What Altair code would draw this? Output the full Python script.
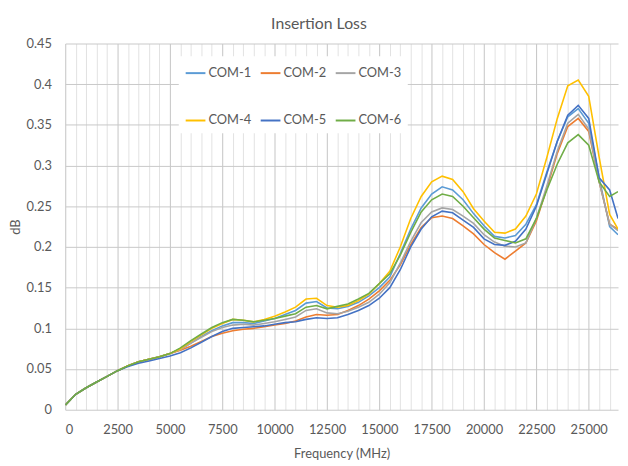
import altair as alt
import pandas as pd

freq = [10, 500, 1000, 1500, 2000, 2500, 3000, 3500, 4000, 4500, 5000,
        5500, 6000, 6500, 7000, 7500, 8000, 8500, 9000, 9500, 10000,
        10500, 11000, 11500, 12000, 12500, 13000, 13500, 14000, 14500, 15000,
        15500, 16000, 16500, 17000, 17500, 18000, 18500, 19000, 19500, 20000,
        20500, 21000, 21500, 22000, 22500, 23000, 23500, 24000, 24500, 25000,
        25500, 26000, 26400]

low = [0.006, 0.019, 0.027, 0.034, 0.041, 0.048, 0.054, 0.059, 0.062, 0.065, 0.069]

com1 = low + [0.074, 0.082, 0.090, 0.097, 0.103, 0.107, 0.107, 0.106, 0.109, 0.112,
              0.117, 0.122, 0.131, 0.133, 0.125, 0.124, 0.127, 0.132, 0.140, 0.150,
              0.163, 0.192, 0.222, 0.248, 0.265, 0.274, 0.270, 0.258, 0.241, 0.226,
              0.213, 0.211, 0.214, 0.228, 0.252, 0.292, 0.330, 0.360, 0.370, 0.352,
              0.285, 0.225, 0.215]
com2 = low + [0.073, 0.078, 0.084, 0.090, 0.094, 0.097, 0.099, 0.100, 0.102, 0.104,
              0.106, 0.109, 0.114, 0.117, 0.116, 0.117, 0.122, 0.128, 0.136, 0.146,
              0.159, 0.178, 0.203, 0.224, 0.236, 0.238, 0.235, 0.226, 0.216, 0.203,
              0.193, 0.185, 0.195, 0.205, 0.232, 0.272, 0.315, 0.348, 0.358, 0.342,
              0.280, 0.228, 0.222]
com3 = low + [0.074, 0.082, 0.089, 0.096, 0.101, 0.104, 0.105, 0.104, 0.106, 0.108,
              0.111, 0.114, 0.122, 0.124, 0.119, 0.118, 0.121, 0.126, 0.132, 0.142,
              0.156, 0.180, 0.207, 0.230, 0.243, 0.248, 0.246, 0.238, 0.229, 0.215,
              0.206, 0.201, 0.200, 0.205, 0.235, 0.275, 0.318, 0.352, 0.363, 0.345,
              0.280, 0.228, 0.220]
com4 = low + [0.075, 0.084, 0.092, 0.100, 0.106, 0.111, 0.110, 0.108, 0.111, 0.115,
              0.120, 0.126, 0.136, 0.137, 0.128, 0.126, 0.128, 0.134, 0.142, 0.155,
              0.170, 0.200, 0.235, 0.262, 0.280, 0.287, 0.283, 0.268, 0.247, 0.232,
              0.218, 0.217, 0.222, 0.238, 0.265, 0.310, 0.358, 0.398, 0.405, 0.385,
              0.310, 0.240, 0.222]
com5 = [0.006, 0.019, 0.027, 0.034, 0.041, 0.048, 0.053, 0.057, 0.060, 0.063, 0.066,
        0.070, 0.076, 0.083, 0.090, 0.096, 0.100, 0.101, 0.102, 0.103, 0.105,
        0.107, 0.108, 0.111, 0.113, 0.112, 0.113, 0.117, 0.122, 0.128, 0.137,
        0.150, 0.172, 0.200, 0.222, 0.237, 0.244, 0.242, 0.233, 0.224, 0.210,
        0.203, 0.202, 0.207, 0.222, 0.250, 0.290, 0.330, 0.362, 0.374, 0.358,
        0.285, 0.270, 0.235]
com6 = low + [0.076, 0.085, 0.093, 0.101, 0.107, 0.111, 0.110, 0.108, 0.110, 0.112,
              0.115, 0.118, 0.126, 0.128, 0.124, 0.127, 0.130, 0.136, 0.143, 0.155,
              0.167, 0.190, 0.218, 0.243, 0.258, 0.265, 0.262, 0.250, 0.236, 0.222,
              0.211, 0.208, 0.205, 0.210, 0.235, 0.270, 0.302, 0.328, 0.338, 0.325,
              0.280, 0.262, 0.268]

names = ["COM-1", "COM-2", "COM-3", "COM-4", "COM-5", "COM-6"]
colors = ["#5B9BD5", "#ED7D31", "#A5A5A5", "#FFC000", "#4472C4", "#70AD47"]
series = [com1, com2, com3, com4, com5, com6]

rows = []
for n, vals in zip(names, series):
    for f, v in zip(freq, vals):
        rows.append({"Frequency": f, "dB": v, "Series": n})
df = pd.DataFrame(rows)

font = "Lato"
grey = "#595959"

xvals = list(range(0, 26401, 500))
yvals = [round(i * 0.05, 2) for i in range(10)]

chart = alt.Chart(df).mark_line(strokeWidth=1.6, clip=True).encode(
    x=alt.X("Frequency:Q", title="Frequency (MHz)",
            scale=alt.Scale(domain=[0, 26400], nice=False, zero=True),
            axis=alt.Axis(values=xvals, format="d", labelOverlap=False,
                          labelExpr="datum.value % 2500 === 0 ? datum.label : ''",
                          gridColor={"condition": {"test": "datum.value % 2500 === 0", "value": "#C4C4C4"},
                                     "value": "#E2E2E2"},
                          labelPadding=14, titlePadding=11)),
    y=alt.Y("dB:Q", title="dB",
            scale=alt.Scale(domain=[0, 0.45], nice=False),
            axis=alt.Axis(values=yvals, format=".2~f", gridColor="#C8C8C8",
                          labelPadding=14, titlePadding=4)),
    color=alt.Color("Series:N", scale=alt.Scale(domain=names, range=colors),
                    legend=alt.Legend(title=None, orient="none", legendX=115, legendY=13,
                                      direction="horizontal", columns=3,
                                      symbolType="stroke", symbolSize=400, symbolStrokeWidth=2,
                                      labelFont=font, labelFontSize=13, labelColor=grey,
                                      labelOffset=2, columnPadding=5, rowPadding=30,
                                      fillColor="white", padding=6)),
    order=alt.Order("Frequency:Q"),
    detail="Series:N",
).properties(
    width=560, height=371,
    title=alt.TitleParams("Insertion Loss", font=font, fontSize=16, color=grey,
                          fontWeight="normal", anchor="middle", dx=-23, offset=6),
    autosize=alt.AutoSizeParams(type="none"),
    padding={"left": 58, "top": 33, "right": 2, "bottom": 52},
).configure_axis(
    domain=False, ticks=False, tickSize=0,
    labelFont=font, labelFontSize=13, labelColor=grey,
    titleFont=font, titleFontSize=13, titleColor=grey, titleFontWeight="normal",
    gridWidth=1,
).configure_view(stroke=None)

chart.save("out.html", embed_options={"renderer": "svg", "actions": False})
